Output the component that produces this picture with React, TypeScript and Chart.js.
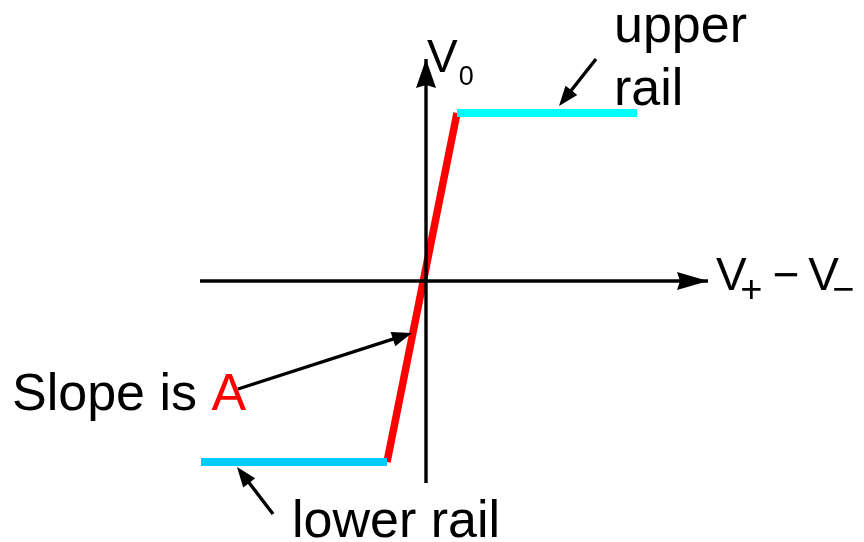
import React, { useEffect, useRef } from "react";
import { Chart, registerables } from "chart.js";

Chart.register(...registerables);

// ---- data (arbitrary volt-like units, origin at the crossing of the axes) ----
const axisX = { min: -42.6, max: 43.8 };
const axisY = { min: -26.1, max: 28.1 };

const horizAxisPts = [
  { x: -22.6, y: 0 },
  { x: 28.2, y: 0 },
];
const vertAxisPts = [
  { x: 0, y: -20.2 },
  { x: 0, y: 22.2 },
];
const lowerRailPts = [
  { x: -22.5, y: -18.1 },
  { x: -3.9, y: -18.1 },
];
const upperRailPts = [
  { x: 3.1, y: 16.8 },
  { x: 21.1, y: 16.8 },
];
const slopePts = [
  { x: -3.9, y: -18.1 },
  { x: 3.1, y: 16.8 },
];
// pointer arrows: [tail, tip]
const upperPointer = [
  { x: 17.0, y: 22.2 },
  { x: 13.3, y: 17.5 },
];
const lowerPointer = [
  { x: -15.3, y: -23.3 },
  { x: -18.9, y: -18.6 },
];
const slopePointer = [
  { x: -18.8, y: -10.8 },
  { x: -1.4, y: -5.2 },
];

// label anchors (left, baseline)
const labelV0 = { x: 0.1, y: 20.9 };
const labelUpper = { x: 18.8, y: 23.9 };
const labelRail = { x: 18.8, y: 17.6 };
const labelVdiff = { x: 29.0, y: -0.9 };
const labelSlope = { x: -41.4, y: -12.9 };
const labelLower = { x: -13.4, y: -25.6 };

const FONT = '"Liberation Sans", Arial, sans-serif';

function arrowHead(
  ctx: CanvasRenderingContext2D,
  x0: number,
  y0: number,
  x1: number,
  y1: number,
  len: number,
  half: number,
  color: string,
  notch = 0
) {
  const a = Math.atan2(y1 - y0, x1 - x0);
  const c = Math.cos(a);
  const s = Math.sin(a);
  ctx.save();
  ctx.fillStyle = color;
  ctx.beginPath();
  ctx.moveTo(x1, y1);
  ctx.lineTo(x1 - len * c + half * s, y1 - len * s - half * c);
  ctx.lineTo(x1 - (len - notch) * c, y1 - (len - notch) * s);
  ctx.lineTo(x1 - len * c - half * s, y1 - len * s + half * c);
  ctx.closePath();
  ctx.fill();
  ctx.restore();
}

const decorPlugin = {
  id: "decor",
  afterDatasetsDraw(chart: any) {
    const ctx: CanvasRenderingContext2D = chart.ctx;
    const xs = chart.scales.x;
    const ys = chart.scales.y;
    const px = (v: number) => xs.getPixelForValue(v);
    const py = (v: number) => ys.getPixelForValue(v);

    // axis arrowheads
    const h = horizAxisPts;
    arrowHead(ctx, px(h[0].x), py(h[0].y), px(h[1].x), py(h[1].y), 31, 9, "#000", 3);
    const v = vertAxisPts;
    arrowHead(ctx, px(v[0].x), py(v[0].y), px(v[1].x), py(v[1].y), 29, 10, "#000", 3);

    // pointer arrows
    for (const p of [upperPointer, lowerPointer, slopePointer]) {
      const x0 = px(p[0].x), y0 = py(p[0].y), x1 = px(p[1].x), y1 = py(p[1].y);
      const a = Math.atan2(y1 - y0, x1 - x0);
      ctx.save();
      ctx.strokeStyle = "#000";
      ctx.lineWidth = 3.4;
      ctx.beginPath();
      ctx.moveTo(x0, y0);
      ctx.lineTo(x1 - 12 * Math.cos(a), y1 - 12 * Math.sin(a));
      ctx.stroke();
      ctx.restore();
      arrowHead(ctx, x0, y0, x1, y1, 20, 7.5, "#000");
    }

    // texts
    ctx.save();
    ctx.textBaseline = "alphabetic";
    ctx.textAlign = "left";
    ctx.fillStyle = "#000";

    // V0
    ctx.font = `46px ${FONT}`;
    let x = px(labelV0.x);
    let y = py(labelV0.y);
    ctx.fillText("V", x, y);
    x += ctx.measureText("V").width + 1;
    ctx.font = `27px ${FONT}`;
    ctx.fillText("0", x, y + 13);

    // upper rail
    ctx.font = `52px ${FONT}`;
    ctx.fillText("upper", px(labelUpper.x), py(labelUpper.y));
    ctx.fillText("rail", px(labelRail.x), py(labelRail.y));

    // V+ − V−
    x = px(labelVdiff.x);
    y = py(labelVdiff.y);
    ctx.font = `46px ${FONT}`;
    ctx.fillText("V", x, y);
    x += ctx.measureText("V").width - 6.5;
    ctx.font = `38px ${FONT}`;
    ctx.fillText("+", x, y + 12);
    x += ctx.measureText("+").width + 10.5;
    ctx.font = `46px ${FONT}`;
    ctx.fillText("\u2212", x, y);
    x += ctx.measureText("\u2212").width + 8.4;
    ctx.fillText("V", x, y);
    x += ctx.measureText("V").width - 6.5;
    ctx.font = `38px ${FONT}`;
    ctx.fillText("\u2212", x, y + 12);

    // Slope is A
    ctx.font = `52px ${FONT}`;
    x = px(labelSlope.x);
    y = py(labelSlope.y);
    ctx.fillText("Slope is ", x, y);
    x += ctx.measureText("Slope is ").width;
    ctx.fillStyle = "#ff0000";
    ctx.fillText("A", x, y);

    // lower rail
    ctx.fillStyle = "#000";
    ctx.fillText("lower rail", px(labelLower.x), py(labelLower.y));
    ctx.restore();
  },
};

export default function App() {
  const ref = useRef<HTMLCanvasElement | null>(null);

  useEffect(() => {
    const prevMargin = document.body.style.margin;
    document.body.style.margin = "0";
    const canvas = ref.current!;
    const lineDs = (data: any[], color: string, width: number) => ({
      data,
      borderColor: color,
      backgroundColor: color,
      borderWidth: width,
      showLine: true,
      pointRadius: 0,
      fill: false,
      borderCapStyle: "butt",
    });
    const chart = new Chart(canvas, {
      type: "scatter",
      data: {
        datasets: [
          lineDs(horizAxisPts, "#000000", 3.4),
          lineDs(vertAxisPts, "#000000", 3.4),
          lineDs(lowerRailPts, "#00ccff", 8),
          lineDs(upperRailPts, "#00ffff", 8),
          lineDs(slopePts, "#ff0000", 7.5),
        ] as any,
      },
      options: {
        animation: false,
        responsive: false,
        maintainAspectRatio: false,
        layout: { padding: 0 },
        plugins: { legend: { display: false }, tooltip: { enabled: false } },
        scales: {
          x: { type: "linear", display: false, min: axisX.min, max: axisX.max },
          y: { type: "linear", display: false, min: axisY.min, max: axisY.max },
        },
      },
      plugins: [decorPlugin],
    });
    return () => {
      chart.destroy();
      document.body.style.margin = prevMargin;
    };
  }, []);

  return (
    <div style={{ position: "absolute", left: 0, top: 0, width: 864, height: 542, background: "#fff" }}>
      <canvas ref={ref} width={864} height={542} />
    </div>
  );
}
